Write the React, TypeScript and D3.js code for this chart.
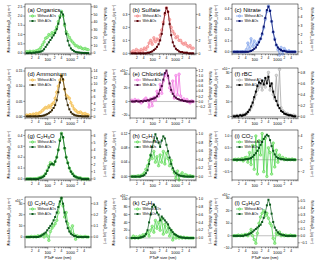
import React from 'react'
import * as d3 from 'd3'

// particle size bins (nm), shared by all panels
const sizes = [12, 14, 16.5, 19, 23, 27, 31, 37, 43, 50, 59, 69, 81, 95, 112, 131, 154, 181, 212, 249, 292, 342, 401, 471, 552, 648, 760, 891, 1046, 1227, 1439, 1688, 1980, 2323, 2725, 3197, 3750, 4399, 5161, 6000]
const xTicks = [20, 40, 100, 200, 400, 1000, 2000, 4000]

const organicsWo = [0.08, 0.05, 0.1, 0.06, 0.1, 0.08, 0.12, 0.15, 0.2, 0.3, 0.45, 0.6, 0.8, 0.85, 1.0, 0.95, 1.1, 1.05, 1.2, 1.4, 1.7, 2.0, 2.25, 2.0, 1.5, 1.15, 1.0, 0.85, 0.7, 0.6, 0.5, 0.4, 0.38, 0.3, 0.32, 0.25, 0.22, 0.25, 0.2, 0.18]
const organicsW = [0, 0, 0.5, 0, 0.5, 0.5, 1, 1, 1.5, 2, 3, 5, 8, 11, 14, 17, 20, 23, 26, 31, 38, 46, 53, 50, 38, 25, 16, 10, 6, 4, 2.5, 1.5, 1, 0.8, 0.5, 0.3, 0.2, 0.2, 0.1, 0]

const sulfateWo = [0.01, 0.02, 0.01, 0.03, 0.02, 0.01, 0.03, 0.02, 0.04, 0.03, 0.05, 0.08, 0.1, 0.07, 0.12, 0.09, 0.11, 0.1, 0.14, 0.18, 0.24, 0.3, 0.35, 0.32, 0.26, 0.2, 0.17, 0.15, 0.12, 0.13, 0.1, 0.1, 0.08, 0.07, 0.08, 0.06, 0.05, 0.06, 0.04, 0.04]
const sulfateW = [0, 0, 0, 0, 0, 0, 0, 0, 0, 0, 0.1, 0.1, 0.2, 0.3, 0.5, 0.7, 1.0, 1.4, 2.0, 3.0, 4.5, 6.2, 7.0, 6.4, 4.5, 2.8, 1.7, 1.1, 0.7, 0.5, 0.3, 0.2, 0.2, 0.1, 0.1, 0.1, 0, 0, 0, 0]

const nitrateWo = [0, 0, 0, 0, 0, 0, 0, 0, 0.02, 0.08, 0.03, 0.12, 0.05, 0.1, 0.06, 0.08, 0.1, 0.12, 0.16, 0.22, 0.3, 0.37, 0.42, 0.38, 0.28, 0.18, 0.12, 0.06, 0.02, -0.03, 0.04, -0.02, 0.03, 0.01, 0, 0.01, 0, 0, 0, 0]
const nitrateW = [0, 0, 0, 0, 0, 0, 0, 0, 0, 0, 0.05, 0.1, 0.2, 0.35, 0.5, 0.8, 1.1, 1.5, 2.1, 2.9, 3.9, 4.8, 5.2, 4.7, 3.5, 2.3, 1.4, 0.8, 0.5, 0.3, 0.2, 0.1, 0.1, 0.05, 0, 0, 0, 0, 0, 0]

const ammoniumWo = [0.005, 0.003, 0.006, 0.004, 0.008, 0.006, 0.01, 0.008, 0.012, 0.015, 0.02, 0.025, 0.03, 0.028, 0.035, 0.03, 0.04, 0.045, 0.06, 0.08, 0.1, 0.12, 0.135, 0.12, 0.09, 0.07, 0.065, 0.06, 0.045, 0.035, 0.025, 0.02, 0.015, 0.012, 0.015, 0.01, 0.008, 0.01, 0.006, 0.005]
const ammoniumW = [0, 0, 0, 0, 0, 0, 0, 0, 0.1, 0.1, 0.2, 0.3, 0.5, 0.7, 1.0, 1.4, 1.9, 2.6, 3.5, 5, 7.5, 10.5, 12.5, 11.5, 8.5, 5.5, 3.5, 2.2, 1.3, 0.8, 0.5, 0.3, 0.2, 0.1, 0.1, 0, 0, 0, 0, 0]

const chlorideWo = [2, 0, 3, 1, 2, 0, -2, 1, 3, 5, 2, -8, 4, -6, 6, 2, 15, 8, 25, 12, 30, 38, 42, 35, 20, 15, 30, 5, 38, 10, 40, 8, 2, 4, 1, 3, 0, -2, 1, 0]
const chlorideW = [0, 0, 0, 0.02, 0, 0, 0.02, 0, 0.03, 0.02, 0.05, 0.04, 0.08, 0.1, 0.12, 0.15, 0.2, 0.3, 0.45, 0.6, 0.85, 1.1, 1.2, 1.0, 0.7, 0.45, 0.3, 0.2, 0.15, 0.1, 0.08, 0.05, 0.05, 0.02, 0.02, 0, 0, 0, 0, 0]

const rbcWo = [0.5, 0.2, 0.8, 0.3, 1, 0.5, 1.5, 1, 2, 3, 4, 6, 8, 12, 15, 18, 20, 22, 18, 24, 20, 25, 30, 18, 22, 15, 12, 28, 8, 32, 6, 4, 3, 2, 2, 1, 1, 0.5, 1, 0.5]
const rbcW = [0, 0, 0.01, 0, 0.02, 0.01, 0.02, 0.03, 0.05, 0.08, 0.12, 0.18, 0.25, 0.35, 0.45, 0.55, 0.62, 0.6, 0.65, 0.58, 0.7, 0.6, 0.72, 0.55, 0.6, 0.45, 0.35, 0.28, 0.2, 0.15, 0.1, 0.08, 0.05, 0.04, 0.03, 0.02, 0.02, 0.01, 0, 0]

const c2h3oWo = [0, 0, 0, 0, 0, 0, 0, 0.005, 0.01, 0.015, 0.02, 0.03, 0.05, 0.08, 0.12, 0.15, 0.14, 0.13, 0.16, 0.2, 0.27, 0.36, 0.42, 0.38, 0.28, 0.2, 0.15, 0.1, 0.07, 0.05, 0.03, 0.02, 0.01, 0.01, 0.01, 0, 0, 0, 0, 0]
const c2h3oW = [0, 0, 0, 0, 0, 0, 0, 0, 0.1, 0.15, 0.25, 0.4, 0.7, 1.1, 1.6, 2.0, 2.1, 2.0, 2.4, 3.0, 4.0, 5.3, 6.3, 5.8, 4.3, 3.0, 2.2, 1.5, 1.0, 0.7, 0.4, 0.3, 0.2, 0.1, 0.1, 0, 0, 0, 0, 0]

const c2h3Wo = [0, 0, 0, 0, 0.002, 0, 0.003, 0.005, 0.01, 0.02, 0.03, 0.045, 0.06, 0.05, 0.07, 0.04, 0.055, 0.03, 0.06, 0.04, 0.07, 0.035, 0.065, 0.05, 0.03, 0.045, 0.02, 0.01, -0.005, 0.015, -0.01, 0.005, 0.01, 0, 0.005, 0.003, 0, 0.002, 0, 0]
const c2h3W = [0, 0, 0, 0, 0, 0, 0.01, 0.02, 0.04, 0.08, 0.15, 0.3, 0.5, 0.7, 0.85, 1.0, 0.9, 0.8, 0.7, 0.85, 0.95, 0.9, 0.75, 0.6, 0.45, 0.3, 0.2, 0.12, 0.08, 0.05, 0.03, 0.02, 0.01, 0.01, 0, 0, 0, 0, 0, 0]

const co2Wo = [0, 0.02, -0.02, 0.03, 0, 0.05, -0.05, 0.08, 0.1, -0.1, 0.3, -0.2, 0.6, -0.4, 1.0, -0.6, 0.8, 0.2, 1.1, -0.5, 0.9, -0.7, 0.5, 0.3, -0.6, 0.7, -0.3, 0.4, -0.1, 0.2, 0.05, 0.1, 0, 0.05, 0, 0.02, 0, 0.03, 0, 0]
const co2W = [0, 0, 0, 0, 0, 0, 0, 0.05, 0.1, 0.1, 0.2, 0.3, 0.5, 0.8, 1.1, 1.5, 2.0, 2.5, 3.0, 3.5, 3.9, 4.2, 4.0, 3.3, 2.3, 1.5, 0.9, 0.5, 0.3, 0.2, 0.1, 0.1, 0.05, 0, 0, 0, 0, 0, 0, 0]

const c2h4o2Wo = [0, 0, 0, 0.5, 0, 0.5, 0, 1, 0.5, 1, 2, 0, 3, 1, -3, 5, 8, 10, 12, 15, 22, 30, 35, 28, 18, 22, 12, 8, 4, 10, 2, -2, 1, 0, 0.5, 0, 0, 0.5, 0, 0]
const c2h4o2W = [0, 0, 0, 0, 0, 0, 0, 0, 0.005, 0.01, 0.02, 0.03, 0.04, 0.06, 0.08, 0.1, 0.12, 0.15, 0.18, 0.22, 0.27, 0.32, 0.35, 0.3, 0.22, 0.14, 0.08, 0.05, 0.03, 0.02, 0.01, 0.01, 0, 0, 0, 0, 0, 0, 0, 0]

const c4h9Wo = [0, 5, 0, 3, 0, 5, 2, 8, 5, 10, 15, 5, 20, 30, 15, 45, 25, 40, 20, 50, 10, 35, 15, 30, 5, 20, -5, 10, 0, 5, 0, 3, 0, 2, 0, 1, 0, 0, 0, 0]
const c4h9W = [0, 0, 0, 0, 0, 0.01, 0.02, 0.03, 0.05, 0.1, 0.2, 0.4, 0.6, 0.8, 0.85, 0.8, 0.65, 0.6, 0.45, 0.55, 0.5, 0.45, 0.4, 0.35, 0.25, 0.2, 0.15, 0.1, 0.08, 0.05, 0.03, 0.02, 0.01, 0.01, 0, 0, 0, 0, 0, 0]

const c3h3oWo = [0, 0, 0, 0.5, 0, 0.5, 0, 1, 1, 0, 2, 5, 0, -3, -6, 2, 10, 15, 18, 20, 16, 18, 14, 10, 8, -2, -6, 2, 1, 3, 0, 1, 0, 0.5, 0, 0, 0.5, 0, 0, 0]
const c3h3oW = [0, 0, 0, 0, 0, 0, 0, 0.01, 0.01, 0.02, 0.03, 0.04, 0.06, 0.08, 0.1, 0.12, 0.14, 0.16, 0.2, 0.26, 0.34, 0.44, 0.52, 0.45, 0.32, 0.2, 0.12, 0.08, 0.05, 0.03, 0.02, 0.01, 0.01, 0, 0, 0, 0, 0, 0, 0]

const titles = ['(a) Organics', '(b) Sulfate', '(c) Nitrate', '(d) Ammonium', '(e) Chloride', '(f) rBC', '(g) C2H3O', '(h) C2H3', '(i) CO2', '(j) C2H4O2', '(k) C4H9', '(l) C3H3O']

const green = { wo: '#4ed44e', woFill: '#a6ee96', w: '#0c5a1c' }

const panels = [
  { wo: organicsWo, w: organicsW, c: green, lDom: [-0.05, 2.65], lTicks: [0, 0.5, 1, 1.5, 2, 2.5], lFmt: '.1f', rDom: [-1.2, 63.6], rTicks: [0, 10, 20, 30, 40, 50, 60], rFmt: 'd' },
  { wo: sulfateWo, w: sulfateW, c: { wo: '#f07a7a', woFill: '#f8b4b4', w: '#5a0008' }, lDom: [-0.005, 0.38], lTicks: [0, 0.1, 0.2, 0.3], lFmt: '.1f', rDom: [-0.1, 7.6], rTicks: [0, 2, 4, 6], rFmt: 'd' },
  { wo: nitrateWo, w: nitrateW, c: { wo: '#7a9ce8', woFill: '#b8ccf4', w: '#0a1470' }, lDom: [-0.02, 0.44], lTicks: [0, 0.1, 0.2, 0.3, 0.4], lFmt: '.1f', rDom: [-0.25, 5.5], rTicks: [0, 1, 2, 3, 4, 5], rFmt: 'd' },
  { wo: ammoniumWo, w: ammoniumW, c: { wo: '#f0b030', woFill: '#f8d890', w: '#3a2a08' }, lDom: [-0.005, 0.16], lTicks: [0, 0.05, 0.1, 0.15], lFmt: '.2f', rDom: [-0.5, 15], rTicks: [0, 2, 4, 6, 8, 10, 12, 14], rFmt: 'd' },
  { wo: chlorideWo, w: chlorideW, c: { wo: '#f070e0', woFill: '#f8b0f0', w: '#4a0840' }, lDom: [-24, 49], lTicks: [-20, 0, 20, 40], lFmt: 'd', exp: true, rDom: [-0.64, 1.3], rTicks: [-0.2, 0, 0.2, 0.4, 0.6, 0.8, 1.0, 1.2], rFmt: '.1f' },
  { wo: rbcWo, w: rbcW, c: { wo: '#a8a8a8', woFill: '#d8d8d8', w: '#000000' }, lDom: [-1, 33], lTicks: [0, 10, 20, 30], lFmt: 'd', exp: true, rDom: [-0.03, 0.88], rTicks: [0, 0.2, 0.4, 0.6, 0.8], rFmt: '.1f' },
  { wo: c2h3oWo, w: c2h3oW, c: green, lDom: [-0.01, 0.45], lTicks: [0, 0.1, 0.2, 0.3, 0.4], lFmt: '.1f', rDom: [-0.15, 6.8], rTicks: [0, 1, 2, 3, 4, 5, 6], rFmt: 'd' },
  { wo: c2h3Wo, w: c2h3W, c: green, lDom: [-0.01, 0.13], lTicks: [0, 0.04, 0.08, 0.12], lFmt: '.2f', rDom: [-0.08, 1.1], rTicks: [0, 0.2, 0.4, 0.6, 0.8, 1.0], rFmt: '.1f' },
  { wo: co2Wo, w: co2W, c: green, lDom: [-0.85, 1.25], lTicks: [-0.5, 0, 0.5, 1.0], lFmt: '.1f', rDom: [-3.4, 5], rTicks: [-2, 0, 2, 4], rFmt: 'd' },
  { wo: c2h4o2Wo, w: c2h4o2W, c: green, lDom: [-9, 36], lTicks: [0, 10, 20, 30], lFmt: 'd', exp: true, rDom: [-0.09, 0.36], rTicks: [0, 0.1, 0.2, 0.3], rFmt: '.1f' },
  { wo: c4h9Wo, w: c4h9W, c: green, lDom: [-23, 105], lTicks: [0, 20, 40, 60, 80, 100], lFmt: 'd', exp: true, rDom: [-0.23, 1.05], rTicks: [0, 0.2, 0.4, 0.6, 0.8, 1.0], rFmt: '.1f' },
  { wo: c3h3oWo, w: c3h3oW, c: green, lDom: [-9, 31], lTicks: [-10, 0, 10, 20, 30], lFmt: 'd', exp: true, rDom: [-0.16, 0.56], rTicks: [-0.1, 0, 0.1, 0.2, 0.3, 0.4, 0.5], rFmt: '.1f' },
]

const colLeft = [25, 130, 232]
const rowTop = [4, 68, 130, 197]
const W = 66
const H = 50
const font = 'Liberation Sans, Arial, sans-serif'

// digits right after a letter become subscripts
function Formula({ text }: { text: string }) {
  const isSub = (k: number) => k > 3 && /\d/.test(text[k]) && /[A-Za-z]/.test(text[k - 1])
  return (
    <>
      {text.split('').map((ch, k) => (
        <tspan key={k} fontSize={isSub(k) ? 4.2 : undefined} dy={isSub(k) ? 1.5 : k > 0 && isSub(k - 1) ? -1.5 : 0}>{ch}</tspan>
      ))}
    </>
  )
}

function Panel({ p, idx }: { p: any; idx: number }) {
  const col = idx % 3
  const row = Math.floor(idx / 3)
  const x = d3.scaleLog().domain([10, 8000]).range([0, W])
  const yl = d3.scaleLinear().domain(p.lDom).range([H, 0])
  const yr = d3.scaleLinear().domain(p.rDom).range([H, 0])
  const lineL = d3.line<number>().x((d, i) => x(sizes[i])).y(d => yl(d))
  const lineR = d3.line<number>().x((d, i) => x(sizes[i])).y(d => yr(d))
  const minor: number[] = []
  ;[10, 100, 1000].forEach(dec => { for (let m = 1; m < 10; m++) if (dec * m <= 8000) minor.push(dec * m) })
  const lf = d3.format(p.lFmt)
  const rf = d3.format(p.rFmt)
  const c = p.c
  return (
    <g transform={`translate(${colLeft[col]},${rowTop[row]})`} fontFamily={font}>
      <line x1={0} x2={W} y1={yl(0)} y2={yl(0)} stroke="#b0b0b0" strokeWidth={0.8} />
      {/* x ticks */}
      {minor.map(v => (
        <line key={v} x1={x(v)} x2={x(v)} y1={H} y2={H + (v === 100 || v === 1000 ? 2.2 : 1.3)} stroke="#000" strokeWidth={0.4} />
      ))}
      {xTicks.map(v => {
        const major = v === 100 || v === 1000
        return (
          <text key={v} x={x(v)} y={H + (major ? 6.5 : 5)} fontSize={major ? 4 : 3.2} textAnchor="middle">{major ? v : String(v)[0]}</text>
        )
      })}
      {/* left axis */}
      {p.lTicks.map((v: number) => (
        <g key={v}>
          <line x1={-1.8} x2={0} y1={yl(v)} y2={yl(v)} stroke="#000" strokeWidth={0.4} />
          <text x={-2.5} y={yl(v) + 1.2} fontSize={3.4} textAnchor="end">{lf(v)}</text>
        </g>
      ))}
      {p.exp && (
        <text x={-2.5} y={yl(p.lTicks[p.lTicks.length - 1]) - 2} fontSize={3.2} textAnchor="end">x10<tspan dy={-1.2} fontSize={2.4}>-3</tspan></text>
      )}
      {/* right axis */}
      {p.rTicks.map((v: number) => (
        <g key={v}>
          <line x1={W} x2={W + 1.8} y1={yr(v)} y2={yr(v)} stroke="#000" strokeWidth={0.4} />
          <text x={W + 2.5} y={yr(v) + 1.2} fontSize={3.4}>{rf(v)}</text>
        </g>
      ))}
      <text transform={`translate(${-15},${H / 2}) rotate(-90)`} fontSize={3.2} textAnchor="middle">
        Without AOs: dM/dlogD<tspan fontSize={2.4} dy={0.8}>va</tspan><tspan dy={-0.8}> (μg m</tspan><tspan fontSize={2.4} dy={-1.2}>-3</tspan><tspan dy={1.2}>)</tspan>
      </text>
      <text transform={`translate(${W + 13},${H / 2}) rotate(90)`} fontSize={3.2} textAnchor="middle">
        With AOs: dM/dlogD<tspan fontSize={2.4} dy={0.8}>va</tspan><tspan dy={-0.8}> (μg m</tspan><tspan fontSize={2.4} dy={-1.2}>-3</tspan><tspan dy={1.2}>)</tspan>
      </text>
      {/* series */}
      <path d={lineL(p.wo) || ''} fill="none" stroke={c.wo} strokeWidth={0.8} />
      {p.wo.map((v: number, i: number) => (
        <circle key={i} cx={x(sizes[i])} cy={yl(v)} r={1.3} fill={c.woFill} stroke={c.wo} strokeWidth={0.5} />
      ))}
      <path d={lineR(p.w) || ''} fill="none" stroke={c.w} strokeWidth={0.7} />
      {p.w.map((v: number, i: number) => (
        <rect key={i} x={x(sizes[i]) - 1} y={yr(v) - 1} width={2} height={2} fill={c.w} />
      ))}
      <rect x={0} y={0} width={W} height={H} fill="none" stroke="#000" strokeWidth={0.5} />
      {/* title + legend */}
      <text x={2.5} y={7.5} fontSize={6}><Formula text={titles[idx]} /></text>
      <line x1={4} x2={11} y1={12} y2={12} stroke={c.wo} strokeWidth={0.8} />
      <circle cx={7.5} cy={12} r={1.2} fill={c.woFill} stroke={c.wo} strokeWidth={0.5} />
      <text x={12.5} y={13.2} fontSize={3.3}>Without AOs</text>
      <line x1={4} x2={11} y1={17} y2={17} stroke={c.w} strokeWidth={0.7} />
      <rect x={6.5} y={16} width={2} height={2} fill={c.w} />
      <text x={12.5} y={18.2} fontSize={3.3}>With AOs</text>
      {row === 3 && (
        <text x={W / 2} y={H + 11.5} fontSize={4} textAnchor="middle">PToF size (nm)</text>
      )}
    </g>
  )
}

export default function App() {
  return (
    <svg width={320} height={260} style={{ position: 'absolute', left: 0, top: 0, background: '#fff' }}>
      {panels.map((p, i) => <Panel key={i} p={p} idx={i} />)}
    </svg>
  )
}
